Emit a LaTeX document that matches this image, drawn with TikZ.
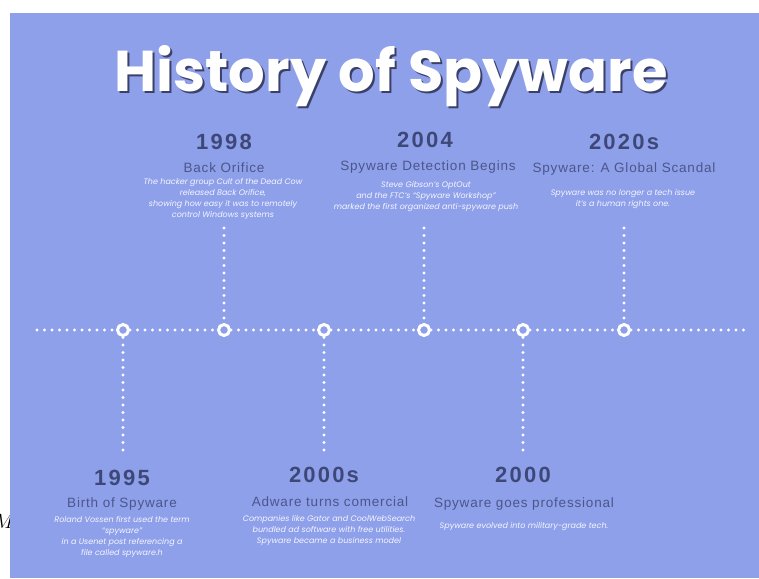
\documentclass[tikz,border=0pt]{standalone}
\usepackage{fontspec}
\setmainfont{Liberation Sans}
\newfontfamily\titlefont{Poppins}
\newfontfamily\yearfont{Liberation Sans}[LetterSpace=10]
\newfontfamily\headfont{Liberation Sans}[LetterSpace=6]
\newfontfamily\descfont{Poppins}
\usetikzlibrary{positioning}

\definecolor{bgblue}{HTML}{8FA0EB}
\definecolor{yearcol}{HTML}{3E4878}
\definecolor{headcol}{HTML}{4B5689}
\definecolor{shadowcol}{HTML}{3A4068}

\begin{document}
\begin{tikzpicture}[x=1pt,y=-1pt,
        dots/.style={white,line width=3.4pt,line cap=round,dash pattern=on 0pt off 7.5pt},
        ring/.style={circle,draw=white,line width=3pt,fill=bgblue,minimum size=11pt,inner sep=0pt},
        year/.style={anchor=base,text=yearcol,font=\yearfont\bfseries\fontsize{22}{22}\selectfont},
        head/.style={anchor=base,text=headcol,font=\headfont\fontsize{13.5}{14}\selectfont},
        desc/.style={text=white!90!bgblue,align=center,font=\descfont\itshape\fontsize{8}{11}\selectfont}]
        \useasboundingbox (0,0) rectangle (759,578);

        % Stray letter, mostly cut off
        \node (stray) at (4,521) {\fontsize{22}{22}\selectfont$M$};

        % Background
        \fill[bgblue] (10,13) rectangle (759,578);

        % Title
        \node[anchor=base,text=shadowcol,font=\titlefont\bfseries\fontsize{57.5}{58}\selectfont] (titleshadow) at (393,93) {History of Spyware};
        \node[anchor=base,text=white,font=\titlefont\bfseries\fontsize{57.5}{58}\selectfont] (title) at (391,91) {History of Spyware};

        % Rings on the line
        \node[ring] (r1995) at (123,330) {};
        \node[ring] (r1998) at (224,330) {};
        \node[ring] (r2000s) at (324,330) {};
        \node[ring] (r2004) at (424,330) {};
        \node[ring] (r2000) at (523,330) {};
        \node[ring] (r2020s) at (624,330) {};

        % Time line
        \coordinate (tlstart) at (37,330);
        \coordinate (tlend) at (745,330);
        \draw[dots] (tlstart) -- (r1995) -- (r1998) -- (r2000s) -- (r2004) -- (r2000) -- (r2020s) -- (tlend);

        % Stems
        \coordinate (s1998) at (224,228);
        \coordinate (s2004) at (424,228);
        \coordinate (s2020s) at (624,228);
        \coordinate (s1995) at (123,450);
        \coordinate (s2000s) at (324,450);
        \coordinate (s2000) at (523,450);
        \foreach \e in {1998,2004,2020s,1995,2000s,2000}
            \draw[dots] (s\e) -- (r\e);

        % Upper events
        \node[year] (y1998) at (224,149) {1998};
        \node[head] (h1998) at (224,172) {Back Orifice};
        \node[desc] (d1998) at (223,199) {The hacker group Cult of the Dead Cow\\released Back Orifice,\\showing how easy it was to remotely\\control Windows systems};

        \node[year] (y2004) at (425,147) {2004};
        \node[head] (h2004) at (428,170) {Spyware Detection Begins};
        \node[desc] (d2004) at (426,197) {Steve Gibson’s OptOut\\and the FTC’s “Spyware Workshop”\\marked the first organized anti-spyware push};

        \node[year] (y2020s) at (624,149) {2020s};
        \node[head] (h2020s) at (624,172) {Spyware: A Global Scandal};
        \node[desc] (d2020s) at (623,199.5) {Spyware was no longer a tech issue\\it’s a human rights one.};

        % Lower events
        \node[year] (y1995) at (122,485) {1995};
        \node[head] (h1995) at (122,507) {Birth of Spyware};
        \node[desc] (d1995) at (122,537) {Roland Vossen first used the term\\“spyware”\\in a Usenet post referencing a\\file called spyware.h};

        \node[year] (y2000s) at (324,482) {2000s};
        \node[head] (h2000s) at (330,506) {Adware turns comercial};
        \node[desc] (d2000s) at (329,530) {Companies like Gator and CoolWebSearch\\bundled ad software with free utilities.\\Spyware became a business model};

        \node[year] (y2000) at (523,482) {2000};
        \node[head] (h2000) at (524,507) {Spyware goes professional};
        \node[desc] (d2000) at (524,526.5) {Spyware evolved into military-grade tech.};

    \end{tikzpicture}
\end{document}
